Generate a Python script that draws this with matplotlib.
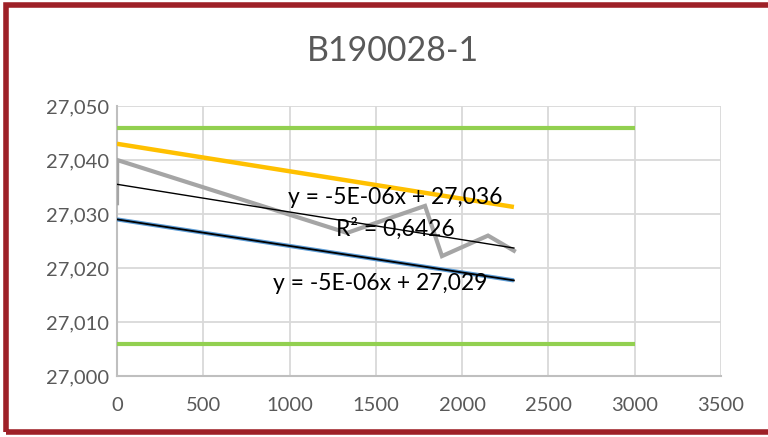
import numpy as np
import matplotlib
matplotlib.use("Agg")
import matplotlib.pyplot as plt
from matplotlib.patches import Rectangle

# Data
title = "B190028-1"
measured_x = [0, 1, 1333, 1785, 1883, 2150, 2300]
measured_y = [27.032, 27.040, 27.0265, 27.0315, 27.0222, 27.026, 27.0232]
upper_x = [0, 2300]
upper_y = [27.043, 27.0313]
lower_x = [0, 2300]
lower_y = [27.029, 27.0177]
limit_x = [0, 3000]
limit_hi = [27.046, 27.046]
limit_lo = [27.006, 27.006]
trend_x = [0, 2300]
trend_y = [27.0355, 27.0237]
xticks = [0, 500, 1000, 1500, 2000, 2500, 3000, 3500]
yticks = [27.000, 27.010, 27.020, 27.030, 27.040, 27.050]
eq_upper = "y = -5E-06x + 27,036"
r2_text = "R² = 0,6426"
eq_lower = "y = -5E-06x + 27,029"

W, H = 768, 437
fig = plt.figure(figsize=(W/100, H/100), dpi=100)
fig.patch.set_facecolor("white")
font = "Lato"
tick_color = "#595959"

ax = fig.add_axes([117/W, 1-376/H, (721-117)/W, (376-106)/H])
ax.set_xlim(0, 3500)
ax.set_ylim(27.000, 27.050)
ax.set_xticks(xticks)
ax.set_yticks(yticks)
ax.set_xticklabels([str(t) for t in xticks])
ax.set_yticklabels([f"{t:.3f}".replace(".", ",") for t in yticks])
ax.grid(True, color="#d9d9d9", linewidth=1.3)
ax.set_axisbelow(True)
for s in ["top", "right"]:
    ax.spines[s].set_visible(False)
for s in ["left", "bottom"]:
    ax.spines[s].set_color("#bfbfbf")
    ax.spines[s].set_linewidth(1.5)
ax.tick_params(length=0, labelsize=14.5, colors=tick_color)
ax.tick_params(axis="y", pad=6)
ax.tick_params(axis="x", pad=15)
for lab in ax.get_xticklabels() + ax.get_yticklabels():
    lab.set_fontfamily(font)

ax.plot(limit_x, limit_hi, color="#92d050", lw=3, solid_capstyle="butt", zorder=3)
ax.plot(limit_x, limit_lo, color="#92d050", lw=3, solid_capstyle="butt", zorder=3)
ax.plot(upper_x, upper_y, color="#ffc000", lw=3.2, solid_capstyle="butt", zorder=3)
ax.plot(lower_x, lower_y, color="#5b9bd5", lw=3, solid_capstyle="butt", zorder=3)
ax.plot(lower_x, lower_y, color="black", lw=1.3, zorder=4)
ax.plot(measured_x, measured_y, color="#a5a5a5", lw=3, solid_joinstyle="miter", zorder=3)
ax.plot(trend_x, trend_y, color="black", lw=1, zorder=4)

ax.text(1611, 27.0330, eq_upper, ha="center", va="center", fontsize=16.5, fontfamily=font, zorder=5)
ax.text(1614, 27.0273, r2_text, ha="center", va="center", fontsize=16.5, fontfamily=font, zorder=5)
ax.text(1524, 27.0172, eq_lower, ha="center", va="center", fontsize=16.5, fontfamily=font, zorder=5)

fig.text(393/W, 1-51/H, title, ha="center", va="center", fontsize=24.5, color=tick_color, fontfamily=font)

fig.patches.append(Rectangle((6/W, 5/H), 1.0, (432-5)/H, transform=fig.transFigure,
                             fill=False, edgecolor="#9e2027", linewidth=4, zorder=10))

fig.savefig("out.png", dpi=100)
